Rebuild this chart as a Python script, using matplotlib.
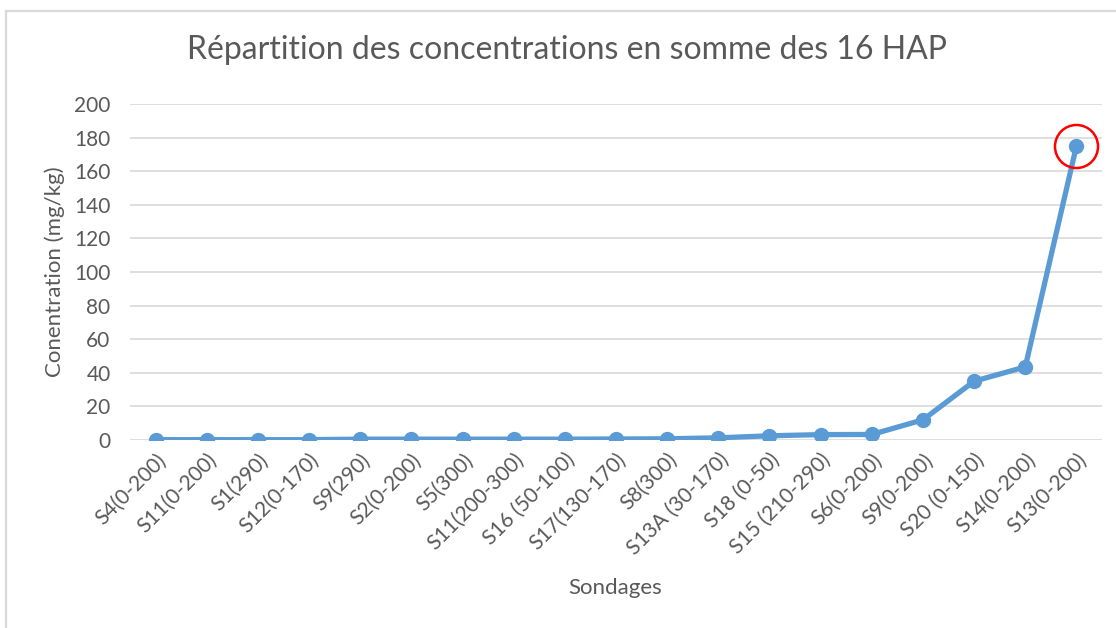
import matplotlib
matplotlib.use("Agg")
import matplotlib.pyplot as plt
from matplotlib.lines import Line2D

categories = ["S4(0-200)", "S11(0-200)", "S1(290)", "S12(0-170)", "S9(290)", "S2(0-200)",
              "S5(300)", "S11(200-300)", "S16 (50-100)", "S17(130-170)", "S8(300)",
              "S13A (30-170)", "S18 (0-50)", "S15 (210-290)", "S6(0-200)", "S9(0-200)",
              "S20 (0-150)", "S14(0-200)", "S13(0-200)"]
values = [0.2, 0.2, 0.2, 0.2, 0.5, 0.5, 0.5, 0.5, 0.5, 0.6, 0.7,
          1.3, 2.5, 3.2, 3.3, 12, 35, 43.5, 175]
yticks = list(range(0, 201, 20))
highlight_index = 18

plt.rcParams['font.family'] = ['Lato', 'DejaVu Sans']
text_color = "#595959"
line_color = "#5B9BD5"

fig = plt.figure(figsize=(11.16, 6.28), dpi=100)
# chart frame: only the top and left edges are visible
fig.lines.append(Line2D([6/1116, 6/1116], [0, 1 - 11/628], transform=fig.transFigure,
                        color="#D9D9D9", linewidth=1.6))
fig.lines.append(Line2D([6/1116, 1], [1 - 11/628, 1 - 11/628], transform=fig.transFigure,
                        color="#D9D9D9", linewidth=1.6))

ax = fig.add_axes([130/1116, 1 - 440/628, (1102-130)/1116, (440-104)/628])

x = list(range(len(categories)))
ax.plot(x, values, color=line_color, linewidth=3.8, marker='o', markersize=10,
        solid_capstyle='round', zorder=3)
ax.plot([x[highlight_index]], [values[highlight_index]], marker='o', markersize=31,
        markerfacecolor='none', markeredgecolor='#FF0000', markeredgewidth=1.8, zorder=4)

ax.set_xlim(-0.5, len(categories) - 0.5)
ax.set_ylim(0, 200)
ax.set_yticks(yticks)
ax.set_xticks(x)
ax.set_xticklabels(categories, rotation=45, ha='right', rotation_mode='anchor')
ax.grid(axis='y', color="#D9D9D9", linewidth=1.2)
ax.set_axisbelow(True)
for s in ax.spines.values():
    s.set_visible(False)
ax.tick_params(axis='both', length=0, labelsize=15, colors=text_color)
ax.tick_params(axis='y', pad=14)
ax.tick_params(axis='x', pad=7)

fig.text(55/1116, 1 - 272/628, "Conentration (mg/kg)", rotation=90, ha='center', va='center',
         fontsize=16, color=text_color)
fig.text(615/1116, 1 - 588/628, "Sondages", ha='center', va='center',
         fontsize=16, color=text_color)
fig.text(567/1116, 1 - 50/628, "Répartition des concentrations en somme des 16 HAP",
         ha='center', va='center', fontsize=23, color=text_color)

fig.savefig("out.png", dpi=100)
